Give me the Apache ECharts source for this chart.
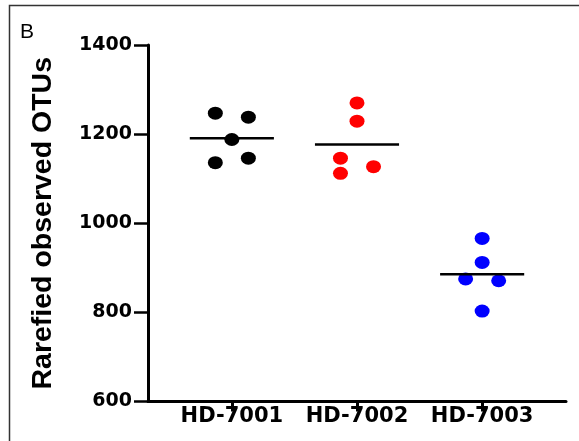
<!DOCTYPE html>
<html>
<head>
<meta charset="utf-8">
<script src="https://cdn.jsdelivr.net/npm/echarts@6/dist/echarts.min.js"></script>
<style>
  html, body { margin: 0; padding: 0; background: #fff; }
  #chart { width: 579px; height: 441px; }
</style>
</head>
<body>
<div id="chart"></div>
<script>
// Sample groups along the x axis
const groups = ['HD-7001', 'HD-7002', 'HD-7003'];
const groupColors = ['#000000', '#ff0000', '#0000ff'];

// Rarefied observed OTUs for each sample, per group
const otus7001 = [1247, 1238, 1188, 1136, 1146];
const otus7002 = [1270, 1229, 1146, 1112, 1127];
const otus7003 = [966, 912, 875, 871, 803];

// Column slot of each dot within its group (-1 left, 0 centre, 1 right)
const slots7001 = [-1, 1, 0, -1, 1];
const slots7002 = [0, 0, -1, -1, 1];
const slots7003 = [0, 0, -1, 1, 0];

// Y axis ticks
const yTicks = [600, 800, 1000, 1200, 1400];

const values = [otus7001, otus7002, otus7003];
const slots = [slots7001, slots7002, slots7003];

const slotStep = 0.132;   // horizontal spread of dots in a column
const meanHalf = 0.336;   // half width of the mean bar

const series = [];
groups.forEach((name, g) => {
  const cx = g + 1;
  series.push({
    type: 'scatter',
    name: name,
    symbol: 'circle',
    symbolSize: [15, 13],
    itemStyle: { color: groupColors[g], opacity: 1 },
    z: 2,
    data: values[g].map((v, i) => [cx + slots[g][i] * slotStep, v])
  });
  const mean = values[g].reduce((a, b) => a + b, 0) / values[g].length;
  series.push({
    type: 'line',
    symbol: 'none',
    silent: true,
    lineStyle: { color: '#000', width: 2.5 },
    z: 3,
    data: [[cx - meanHalf, mean], [cx + meanHalf, mean]]
  });
});

const chart = echarts.init(document.getElementById('chart'), null, { renderer: 'canvas' });
chart.setOption({
  animation: false,
  backgroundColor: '#fff',
  grid: { left: 148, right: 13, top: 45, bottom: 39.5, containLabel: false },
  xAxis: {
    type: 'value',
    min: 0.33,
    max: 3.67,
    splitLine: { show: false },
    axisLine: { show: true, onZero: false, lineStyle: { color: '#000', width: 3 } },
    axisTick: {
      show: true, inside: false, length: 10,
      customValues: [1, 2, 3],
      lineStyle: { color: '#000', width: 3 }
    },
    axisLabel: {
      show: true,
      customValues: [1, 2, 3],
      formatter: v => groups[Math.round(v) - 1] || '',
      margin: 5,
      color: '#000',
      fontFamily: 'DejaVu Sans',
      fontWeight: 'bold',
      fontSize: 21
    }
  },
  yAxis: {
    type: 'value',
    min: yTicks[0],
    max: yTicks[yTicks.length - 1],
    interval: 200,
    splitLine: { show: false },
    axisLine: { show: true, lineStyle: { color: '#000', width: 3 } },
    axisTick: { show: true, length: 14, lineStyle: { color: '#000', width: 2.5 } },
    axisLabel: {
      margin: 16,
      formatter: v => String(v),
      color: '#000',
      fontFamily: 'DejaVu Sans',
      fontWeight: 'bold',
      fontSize: 19
    },
    name: 'Rarefied observed OTUs',
    nameLocation: 'middle',
    nameRotate: 90,
    nameGap: 90,
    nameTextStyle: {
      color: '#000',
      fontFamily: 'Liberation Sans',
      fontWeight: 'bold',
      fontSize: 28.5
    }
  },
  graphic: [
    {
      type: 'rect',
      silent: true,
      shape: { x: 9.5, y: 5.5, width: 700, height: 700 },
      style: { fill: 'none', stroke: '#333', lineWidth: 1.5 }
    },
    {
      type: 'text',
      silent: true,
      left: 20,
      top: 22,
      style: { text: 'B', fill: '#000', font: '21px "Liberation Sans"' }
    }
  ],
  series: series
});
</script>
</body>
</html>
